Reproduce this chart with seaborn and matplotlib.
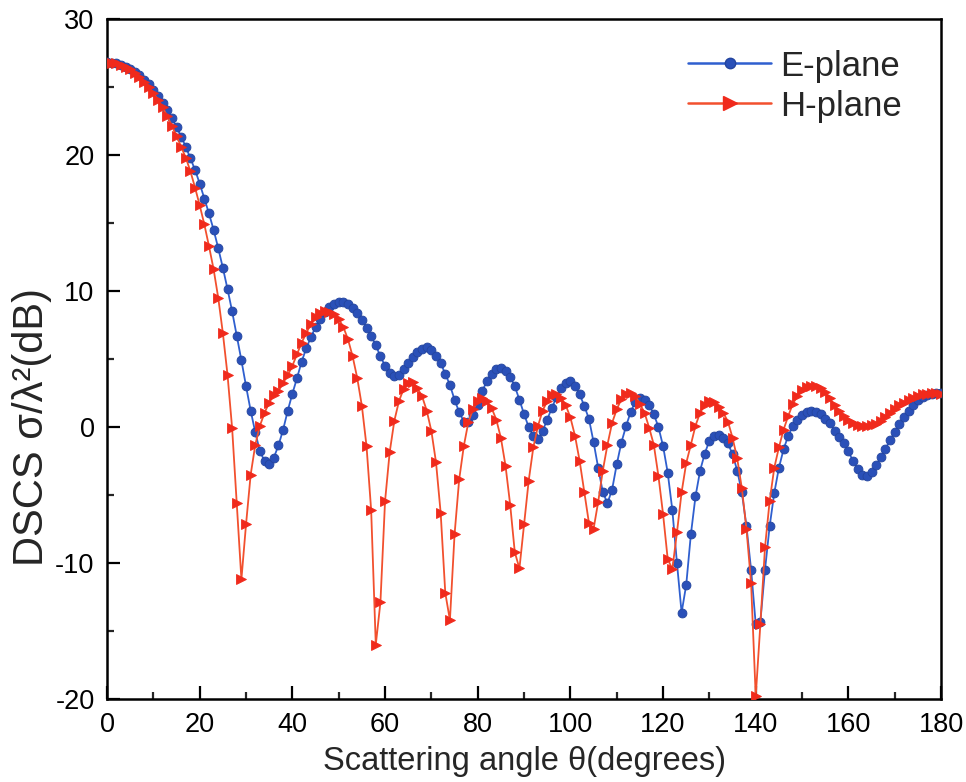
import matplotlib
matplotlib.use("Agg")
import matplotlib.pyplot as plt
from matplotlib.ticker import MultipleLocator
from matplotlib.lines import Line2D
import pandas as pd
import seaborn as sns

# ---------------- data ----------------
theta = list(range(0, 181))

e_plane = [
    26.85, 26.8, 26.75, 26.65, 26.5, 26.3, 26.1, 25.85, 25.55, 25.2,      # 0-9
    24.8, 24.35, 23.85, 23.3, 22.7, 22.05, 21.35, 20.6, 19.75, 18.9,      # 10-19
    17.9, 16.8, 15.7, 14.5, 13.15, 11.7, 10.15, 8.5, 6.7, 4.9,            # 20-29
    3.0, 1.2, -0.4, -1.8, -2.5, -2.7, -2.25, -1.35, -0.2, 1.2,            # 30-39
    2.45, 3.6, 4.8, 5.8, 6.6, 7.35, 7.95, 8.45, 8.8, 9.05,                # 40-49
    9.2, 9.2, 9.05, 8.75, 8.35, 7.9, 7.3, 6.7, 6.0, 5.2,                  # 50-59
    4.5, 4.0, 3.75, 3.85, 4.25, 4.7, 5.15, 5.5, 5.75, 5.85,               # 60-69
    5.65, 5.25, 4.7, 3.9, 3.1, 2.0, 1.1, 0.4, 0.35, 0.9,                  # 70-79
    1.65, 2.65, 3.4, 3.9, 4.25, 4.35, 4.1, 3.7, 3.0, 2.0,                 # 80-89
    0.95, 0.0, -0.65, -0.9, -0.3, 0.55, 1.4, 2.2, 2.9, 3.2,               # 90-99
    3.35, 3.0, 2.4, 1.55, 0.6, -1.1, -3.0, -4.8, -5.6, -4.6,              # 100-109
    -2.75, -1.15, 0.05, 1.1, 1.85, 2.1, 2.0, 1.6, 0.95, 0.0,              # 110-119
    -1.4, -3.35, -6.1, -10.0, -13.65, -11.6, -7.9, -5.1, -3.2, -1.95,     # 120-129
    -1.0, -0.65, -0.6, -0.8, -1.2, -2.0, -3.2, -4.8, -7.3, -10.5,         # 130-139
    -14.5, -14.3, -10.5, -7.3, -4.85, -3.0, -1.65, -0.65, 0.05, 0.55,     # 140-149
    0.9, 1.12, 1.18, 1.12, 0.95, 0.6, 0.3, -0.3, -0.75, -1.2,             # 150-159
    -1.8, -2.5, -3.1, -3.5, -3.6, -3.3, -2.8, -2.2, -1.6, -0.95,          # 160-169
    -0.35, 0.2, 0.7, 1.2, 1.6, 1.95, 2.2, 2.35, 2.45, 2.5,                # 170-179
    2.5,                                                                  # 180
]

h_plane = [
    26.85, 26.8, 26.75, 26.65, 26.5, 26.3, 26.05, 25.75, 25.4, 25.0,      # 0-9
    24.55, 24.05, 23.5, 22.85, 22.15, 21.4, 20.6, 19.8, 18.8, 17.6,       # 10-19
    16.3, 14.9, 13.3, 11.6, 9.5, 6.9, 3.85, -0.1, -5.6, -11.2,            # 20-29
    -7.15, -3.5, -1.3, 0.1, 1.05, 1.8, 2.35, 2.65, 3.25, 3.8,             # 30-39
    4.5, 5.35, 6.2, 6.9, 7.6, 8.1, 8.35, 8.5, 8.45, 8.3,                  # 40-49
    7.95, 7.35, 6.45, 5.2, 3.6, 1.55, -1.4, -6.1, -16.0, -12.9,           # 50-59
    -5.45, -1.85, 0.45, 1.9, 2.8, 3.25, 3.3, 2.85, 2.25, 1.2,             # 60-69
    -0.3, -2.6, -6.3, -12.2, -14.2, -7.9, -3.85, -1.4, 0.4, 1.3,          # 70-79
    1.9, 2.15, 1.9, 1.4, 0.55, -0.8, -2.85, -5.7, -9.2, -10.4,            # 80-89
    -7.15, -3.95, -1.5, 0.07, 1.2, 1.9, 2.35, 2.4, 2.15, 1.6,             # 90-99
    0.7, -0.65, -2.5, -4.8, -7.05, -7.5, -5.5, -3.2, -1.3, 0.3,           # 100-109
    1.3, 2.05, 2.4, 2.5, 2.3, 1.7, 1.05, -0.05, -1.3, -3.6,               # 110-119
    -6.4, -9.7, -10.45, -7.75, -4.8, -2.65, -1.3, 0.1, 1.05, 1.65,        # 120-129
    1.9, 1.85, 1.5, 1.05, 0.4, -0.8, -2.3, -4.5, -7.5, -11.5,             # 130-139
    -19.8, -14.5, -8.85, -5.45, -3.0, -1.5, -0.2, 0.8, 1.7, 2.3,          # 140-149
    2.7, 2.95, 3.05, 3.0, 2.85, 2.55, 2.1, 1.6, 1.15, 0.8,                # 150-159
    0.5, 0.3, 0.15, 0.1, 0.08, 0.12, 0.25, 0.45, 0.75, 1.05,              # 160-169
    1.35, 1.6, 1.8, 2.0, 2.15, 2.3, 2.4, 2.45, 2.5, 2.5,                  # 170-179
    2.45,                                                                 # 180
]

series_names = ["E-plane", "H-plane"]
x_ticks = [0, 20, 40, 60, 80, 100, 120, 140, 160, 180]
y_ticks = [-20, -10, 0, 10, 20, 30]

# ---------------- style ----------------
sns.set_style("ticks")
plt.rcParams["font.family"] = ["Liberation Sans", "DejaVu Sans"]

BLUE = "#2a50b8"
BLUE_LINE = "#2f5fcf"
RED = "#f02a1c"
RED_LINE = "#f2502e"

fig = plt.figure(figsize=(9.66, 7.82), dpi=100)
ax = fig.add_axes([0.1108, 0.1061, 0.8634, 0.8696])

df_e = pd.DataFrame({"theta": theta, "dscs": e_plane})
df_h = pd.DataFrame({"theta": theta, "dscs": h_plane})

sns.lineplot(data=df_e, x="theta", y="dscs", ax=ax, color=BLUE_LINE,
             linewidth=1.3, marker="o", markersize=6.4,
             markerfacecolor=BLUE, markeredgecolor="#24459e",
             markeredgewidth=0.6, zorder=3)
sns.lineplot(data=df_h, x="theta", y="dscs", ax=ax, color=RED_LINE,
             linewidth=1.3, marker=">", markersize=7.8,
             markerfacecolor=RED, markeredgecolor=RED,
             markeredgewidth=0.6, zorder=4)

ax.set_xlim(0, 180)
ax.set_ylim(-20, 30)
ax.set_xticks(x_ticks)
ax.set_xticklabels([str(t) for t in x_ticks])
ax.set_yticks(y_ticks)
ax.set_yticklabels([str(t) for t in y_ticks])
ax.xaxis.set_minor_locator(MultipleLocator(10))
ax.yaxis.set_minor_locator(MultipleLocator(5))

ax.tick_params(axis="both", which="major", direction="in", length=9.5,
               width=1.6, labelsize=19.5, pad=9, colors="black")
ax.tick_params(axis="both", which="minor", direction="in", length=5,
               width=1.6)
ax.tick_params(top=False, right=False, which="both")
for s in ax.spines.values():
    s.set_linewidth(1.8)
    s.set_color("black")

ax.set_xlabel("Scattering angle θ(degrees)", fontsize=23.5, labelpad=6)
ax.set_ylabel("DSCS σ/λ²(dB)", fontsize=30)
ax.yaxis.set_label_coords(-0.066, 0.40)

handles = [
    Line2D([], [], color=BLUE_LINE, linewidth=1.8, marker="o", markersize=7.5,
           markerfacecolor=BLUE, markeredgecolor="#24459e"),
    Line2D([], [], color=RED_LINE, linewidth=1.8, marker=">", markersize=9.5,
           markerfacecolor=RED, markeredgecolor=RED),
]
ax.legend(handles, series_names, loc="upper right", frameon=False,
          fontsize=25, handlelength=2.4, handletextpad=0.25,
          labelspacing=0.2, borderpad=0, borderaxespad=0,
          bbox_to_anchor=(0.953, 0.955))

fig.savefig("out.png", dpi=100)
